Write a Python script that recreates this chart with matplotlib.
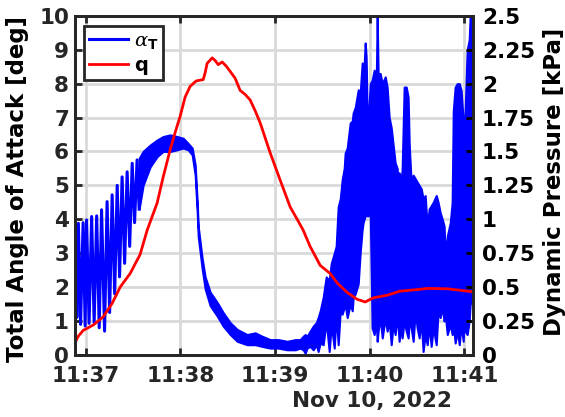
import numpy as np
import pandas as pd
import matplotlib
matplotlib.use('Agg')
from matplotlib import pyplot as plt
import matplotlib.dates as mdates

plt.rcParams['font.family'] = 'DejaVu Sans'
plt.rcParams['font.weight'] = 'bold'
plt.rcParams['mathtext.fontset'] = 'custom'
plt.rcParams['mathtext.it'] = 'DejaVu Serif:italic:normal'
plt.rcParams['mathtext.bf'] = 'DejaVu Sans:bold'

t0 = pd.Timestamp('2022-11-10 11:37:00')

# dynamic pressure q [kPa], seconds after 11:37:00
q_sec = [-6.7, -4.8, -1.6, 4.8, 11.1, 16.8, 21.9, 28.2, 34.5, 39.0, 45.3, 49.1, 53.5,
         56.7, 59.9, 63.0, 66.2, 70.0, 74.5, 75.7, 77.0, 80.2, 82.1, 84.0, 86.5, 89.0,
         91.6, 94.7, 97.9, 101.1, 104.2, 107.4, 110.6, 116.9, 123.2, 129.6, 134.0,
         137.8, 142.2, 148.6, 154.9, 159.4, 165.7, 172.0, 177.1, 182.1, 191.0, 199.2,
         208.7, 216.9, 229.6, 245.4]
q_kpa = [0.09, 0.135, 0.18, 0.22, 0.28, 0.38, 0.50, 0.60, 0.74, 0.92, 1.12, 1.31, 1.51,
         1.64, 1.76, 1.90, 1.98, 2.02, 2.03, 2.08, 2.15, 2.19, 2.17, 2.14, 2.16, 2.13,
         2.09, 2.04, 1.95, 1.92, 1.88, 1.80, 1.71, 1.49, 1.29, 1.09, 1.00,
         0.92, 0.80, 0.66, 0.60, 0.53, 0.46, 0.41, 0.39, 0.42, 0.44, 0.47,
         0.48, 0.49, 0.487, 0.465]

# total angle of attack, early part: individual swings (peak / trough)
a_sec = [-6.9, -6.5, -5.6, -4.6, -3.2, -1.6, -0.3, 0.6, 2.2, 3.8, 5.4, 7.0, 8.6, 10.1,
         12.0, 13.6, 15.2, 16.8, 18.4, 20.0, 21.5, 23.1, 24.7, 26.3, 27.9, 29.5, 31.0,
         32.6, 33.9]
a_deg = [0.1, 3.2, 1.1, 3.88, 0.9, 3.9, 0.85, 3.98, 0.93, 4.08, 0.95, 4.1, 0.8, 4.28,
         0.7, 4.52, 1.25, 4.72, 1.8, 5.0, 2.3, 5.25, 2.7, 5.4, 3.2, 5.65, 3.9,
         5.75, 4.3]

# later part: dense oscillation, lower / upper envelope
band_sec = [33.9, 36.4, 40.9, 45.3, 49.1, 53.5, 58.0, 61.8, 64.9, 67.5, 69.4, 70.7, 71.3,
            73.8, 75.7, 78.9, 83.3, 87.1, 91.6, 96.0, 102.3, 107.4, 111.8, 116.9, 122.0,
            127.7, 132.8,
            135.9, 137.8, 139.1, 140.3, 142.2, 144.2, 146.1, 147.3, 148.6, 150.5, 152.4,
            154.3, 155.6, 157.5, 158.7, 160.0, 161.3, 162.5, 163.8, 164.4, 165.7, 167.6,
            168.9, 169.5, 170.8, 172.7, 173.9, 175.2, 175.8, 177.1, 177.7, 178.4, 179.0,
            180.3, 181.5, 182.8, 184.1, 184.7, 185.3, 186.6, 187.9, 189.8, 191.0, 192.3,
            193.6, 194.8, 196.1, 197.4, 198.0, 198.6, 199.9, 200.5, 201.8, 203.1, 204.3,
            205.0, 206.2, 207.5, 208.8, 210.0, 211.3, 212.6, 213.8, 215.1, 216.4, 217.6,
            218.9, 220.2, 222.1, 223.3, 224.6, 225.9, 227.1, 227.8, 229.1, 231.0, 232.2,
            232.9, 234.1, 235.4, 236.7, 237.9, 239.2, 239.8, 240.5, 241.7, 243.0, 243.6,
            245.6]
band_lo = [4.3, 5.0, 5.55, 5.85, 6.0, 6.0, 6.05, 6.1, 6.05, 5.9, 5.3, 4.2, 3.5,
           2.55, 1.95, 1.45, 1.15, 0.85, 0.6, 0.4, 0.3, 0.3, 0.25, 0.2, 0.2,
           0.15, 0.15,
           0.2, 0.15, 0.05, 0.2, 0.25, 0.15, 0.3, 0.1, 0.35, 0.3, 1.0,
           0.1, 0.9, 0.2, 1.2, 0.3, 1.3, 1.2, 1.4, 1.5, 1.1, 1.5,
           1.3, 1.7, 1.8, 2.1, 3.0, 3.7, 3.9, 4.1, 4.2, 4.1, 4.1,
           4.2, 0.8, 0.6, 1.0, 0.4, 0.7, 1.1, 0.5, 1.1, 0.7, 1.0,
           0.3, 0.9, 0.6, 1.2, 0.8, 0.4, 0.9, 0.5, 1.0, 0.7, 0.5,
           1.0, 0.8, 0.4, 1.3, 0.8, 0.5, 1.0, 0.1, 0.6, 0.3, 0.9,
           0.25, 0.8, 0.3, 1.3, 1.1, 1.4, 1.0, 1.2, 0.6, 0.9, 0.6,
           0.9, 0.35, 0.7, 0.3, 0.9, 0.4, 1.0, 0.7, 0.6, 1.0, 1.5,
           1.6]
band_hi = [5.8, 6.0, 6.19, 6.34, 6.44, 6.49, 6.44, 6.39, 6.24, 6.1, 5.6, 4.5, 3.8,
           2.85, 2.3, 1.85, 1.55, 1.25, 0.95, 0.75, 0.6, 0.65, 0.55, 0.45, 0.45,
           0.4, 0.45,
           0.45, 0.55, 0.6, 0.55, 0.7, 0.85, 0.95, 1.1, 1.3, 1.7, 2.3,
           2.2, 2.7, 3.0, 3.2, 4.37, 4.6, 5.16, 5.5, 5.95, 6.1, 6.84,
           6.9, 7.14, 7.3, 7.82, 7.7, 8.61, 7.9, 9.2, 8.8, 7.0, 6.8,
           8.0, 8.1, 8.4, 8.0, 10.0, 8.3, 8.3, 8.0, 8.2, 7.9, 7.0,
           6.7, 6.2, 5.66, 5.5, 4.6, 5.37, 5.16, 5.46, 7.9, 7.9, 7.6,
           6.2, 5.1, 5.3, 5.2, 5.1, 5.0, 4.9, 4.6, 4.7, 3.78, 4.3,
           4.4, 4.5, 4.7, 4.5, 4.2, 4.0, 3.8, 2.9, 3.5, 3.9, 4.5,
           7.2, 7.9, 8.0, 8.0, 7.8, 6.9, 6.3, 7.3, 9.0, 9.3, 10.0,
           10.0]

x_ticks_min = [0, 1, 2, 3, 4]
left_ticks = list(range(0, 11))
right_ticks = [0, 0.25, 0.5, 0.75, 1, 1.25, 1.5, 1.75, 2, 2.25, 2.5]
right_labels = ['0', '0.25', '0.5', '0.75', '1', '1.25', '1.5', '1.75', '2', '2.25', '2.5']


def to_time(sec):
    return t0 + pd.to_timedelta(np.array(sec), unit='s')


fig = plt.figure(figsize=(5.65, 4.17), dpi=100)
ax = fig.add_axes([0.132, 0.149, 0.706, 0.813])

blue_line, = ax.plot(to_time(a_sec), a_deg, color='#0000ff', lw=2.2)
ax.fill_between(to_time(band_sec), band_lo, band_hi, color='#0000ff', lw=1.5,
                edgecolor='#0000ff')
ax.set_xlim(to_time([-7.0])[0], to_time([245.7])[0])
ax.set_ylim(0, 10)
ax.set_yticks(left_ticks)
ax.set_xticks(to_time([m * 60 for m in x_ticks_min]))
ax.xaxis.set_major_formatter(mdates.DateFormatter('%H:%M'))
ax.grid(True, color='#d9d9d9', lw=2)
ax.set_axisbelow(True)
ax.set_ylabel('Total Angle of Attack [deg]', fontsize=16.5, fontweight='bold', va='center')
ax.yaxis.set_label_coords(-0.142, 0.49)
ax.tick_params(axis='both', direction='in', length=5, width=2, labelsize=15.5,
               colors='#262626', top=True, pad=6)
ax.tick_params(axis='y', pad=4)
ax.tick_params(axis='x', pad=8)

ax2 = ax.twinx()
red_line, = ax2.plot(to_time(q_sec), q_kpa, color='#ff0000', lw=2)
ax2.set_ylim(0, 2.5)
ax2.set_yticks(right_ticks)
ax2.set_yticklabels(right_labels)
ax2.set_ylabel('Dynamic Pressure [kPa]', fontsize=16.5, fontweight='bold', va='center')
ax2.yaxis.set_label_coords(1.203, 0.51)
ax2.tick_params(axis='y', direction='in', length=5, width=2, labelsize=15.5,
                colors='black', pad=6)
for a in (ax, ax2):
    for s in a.spines.values():
        s.set_linewidth(2)
        s.set_color('#262626')

leg = ax2.legend([blue_line, red_line], [r'$\alpha_{\mathbf{T}}$', 'q'],
                 loc='upper left', bbox_to_anchor=(0.024, 0.97), borderaxespad=0,
                 fontsize=14, fancybox=False, framealpha=1, edgecolor='#262626',
                 handlelength=2.0, borderpad=0.25, labelspacing=0.25, handletextpad=0.3)
leg.get_frame().set_linewidth(2)

fig.text(0.658, 0.038, 'Nov 10, 2022', ha='center', va='center', fontsize=15.5,
         fontweight='bold', color='#262626')

fig.savefig('out.png', dpi=100)
